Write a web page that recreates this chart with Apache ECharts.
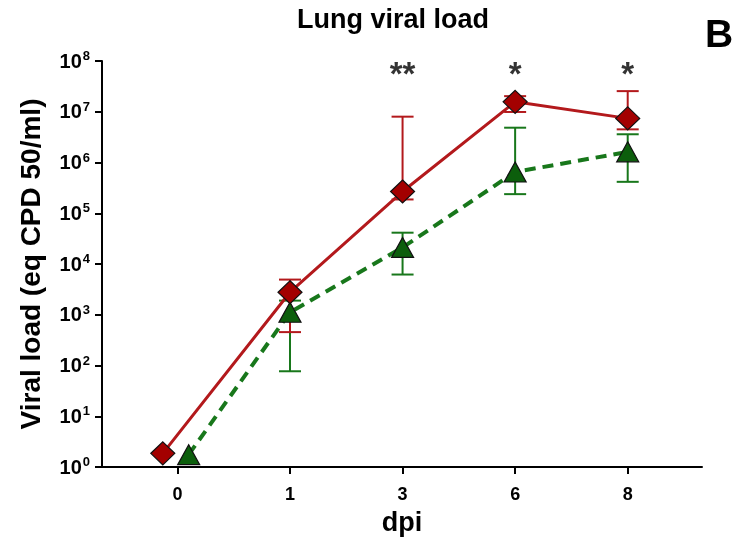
<!DOCTYPE html>
<html>
<head>
<meta charset="utf-8">
<script src="https://cdn.jsdelivr.net/npm/echarts@6/dist/echarts.min.js"></script>
<style>html,body{margin:0;padding:0;background:#fff}#c{width:734px;height:537px}</style>
</head>
<body>
<div id="c"></div>
<script>
// ---- data ----
const dpiLabels = ['0', '1', '3', '6', '8'];
const redMean   = [1.86, 2780, 2.68e5, 1.57e7, 7.4e6];
const redLow    = [null, 455, 1.87e5, 9.9e6, 4.5e6];
const redHigh   = [null, 4930, 8.0e6, 2.03e7, 2.55e7];
const greenMean = [1.75, 1120, 2.12e4, 6.5e5, 1.62e6];
const greenLow  = [null, 77, 6200, 2.38e5, 4.16e5];
const greenHigh = [null, 1900, 4.14e4, 4.85e6, 3.6e6];
const sigMarks  = ['', '', '**', '*', '*'];
const sigLevel  = 5.0e7;

const RED_LINE = '#b3191c', RED_FILL = '#a30000';
const GREEN_LINE = '#18771b', GREEN_FILL = '#0c5e0c';

// day-0 points are nudged apart in the original figure
function nudge(i, d) { return i === 0 ? d : 0; }

const redPts = redMean.map((v, i) => [i + nudge(i, -0.13), v]);
const greenPts = greenMean.map((v, i) => [i + nudge(i, 0.1), v]);
const redErr = redMean.map((v, i) => [i, redLow[i], redHigh[i]]).filter(d => d[1] != null);
const greenErr = greenMean.map((v, i) => [i, greenLow[i], greenHigh[i]]).filter(d => d[1] != null);
const sigPts = sigMarks.map((s, i) => [i, sigLevel, s]).filter(d => d[2]);

function errRender(color) {
  return function (params, api) {
    const x = api.value(0);
    const lo = api.coord([x, api.value(1)]);
    const hi = api.coord([x, api.value(2)]);
    const hw = 11;
    const st = { stroke: color, lineWidth: 2 };
    return {
      type: 'group',
      children: [
        { type: 'line', shape: { x1: lo[0], y1: lo[1], x2: hi[0], y2: hi[1] }, style: st },
        { type: 'line', shape: { x1: lo[0] - hw, y1: lo[1], x2: lo[0] + hw, y2: lo[1] }, style: st },
        { type: 'line', shape: { x1: hi[0] - hw, y1: hi[1], x2: hi[0] + hw, y2: hi[1] }, style: st }
      ]
    };
  };
}

const FONT = 'Liberation Sans, Arial, sans-serif';
const chart = echarts.init(document.getElementById('c'));
chart.setOption({
  animation: false,
  backgroundColor: '#fff',
  textStyle: { fontFamily: FONT },
  grid: { left: 102, right: 32, top: 61, bottom: 70, outerBoundsMode: 'none', containLabel: false },
  graphic: [
    { type: 'text', x: 393, y: 21, style: { text: 'Lung viral load', font: 'bold 27px ' + FONT, fill: '#000', textAlign: 'center', textVerticalAlign: 'middle' } },
    { type: 'text', x: 719, y: 36, style: { text: 'B', font: 'bold 39px ' + FONT, fill: '#000', textAlign: 'center', textVerticalAlign: 'middle' } }
  ],
  xAxis: {
    type: 'value', min: -0.67, max: 4.66,
    splitLine: { show: false },
    axisLine: { show: true, onZero: false, lineStyle: { color: '#000', width: 2 } },
    axisTick: { show: true, length: 7, customValues: [0, 1, 2, 3, 4], lineStyle: { color: '#000', width: 2 } },
    axisLabel: { customValues: [0, 1, 2, 3, 4], formatter: v => dpiLabels[Math.round(v)], color: '#000', fontSize: 18, fontWeight: 'bold', margin: 19, fontFamily: FONT },
    name: 'dpi', nameLocation: 'middle', nameGap: 43,
    nameTextStyle: { color: '#000', fontSize: 27, fontWeight: 'bold', fontFamily: FONT }
  },
  yAxis: {
    type: 'log', logBase: 10, min: 1, max: 1e8, interval: 1,
    splitLine: { show: false },
    minorTick: { show: false },
    axisLine: { show: true, onZero: false, lineStyle: { color: '#000', width: 2 } },
    axisTick: { show: true, length: 7, lineStyle: { color: '#000', width: 2 } },
    axisLabel: {
      margin: 12, color: '#000',
      formatter: v => '{b|10}{s|' + Math.round(Math.log10(v)) + '}',
      rich: {
        b: { fontSize: 20, fontWeight: 'bold', color: '#000', fontFamily: FONT, lineHeight: 22, verticalAlign: 'bottom' },
        s: { fontSize: 13, fontWeight: 'bold', color: '#000', fontFamily: FONT, lineHeight: 22, verticalAlign: 'top', padding: [0, 0, 7, 1] }
      }
    },
    name: 'Viral load (eq CPD 50/ml)', nameLocation: 'middle', nameGap: 56,
    nameTextStyle: { color: '#000', fontSize: 28, fontWeight: 'bold', fontFamily: FONT }
  },
  series: [
    { type: 'custom', renderItem: errRender(GREEN_LINE), data: greenErr, encode: { x: 0, y: [1, 2] }, z: 2, silent: true },
    { type: 'custom', renderItem: errRender(RED_LINE), data: redErr, encode: { x: 0, y: [1, 2] }, z: 2, silent: true },
    {
      type: 'line', data: greenPts, z: 3,
      lineStyle: { color: GREEN_LINE, width: 4, type: [11, 7] },
      symbol: 'triangle', symbolSize: [22, 20],
      itemStyle: { color: GREEN_FILL, borderColor: '#111', borderWidth: 1.2 }
    },
    {
      type: 'line', data: redPts, z: 4,
      lineStyle: { color: RED_LINE, width: 3 },
      symbol: 'diamond', symbolSize: [24, 23],
      itemStyle: { color: RED_FILL, borderColor: '#111', borderWidth: 1.2 }
    },
    {
      type: 'scatter', data: sigPts, symbolSize: 0, z: 5,
      label: { show: true, position: 'inside', formatter: p => p.data[2], color: '#000', fontSize: 33, fontWeight: 'bold', fontFamily: FONT }
    }
  ]
});
</script>
</body>
</html>
